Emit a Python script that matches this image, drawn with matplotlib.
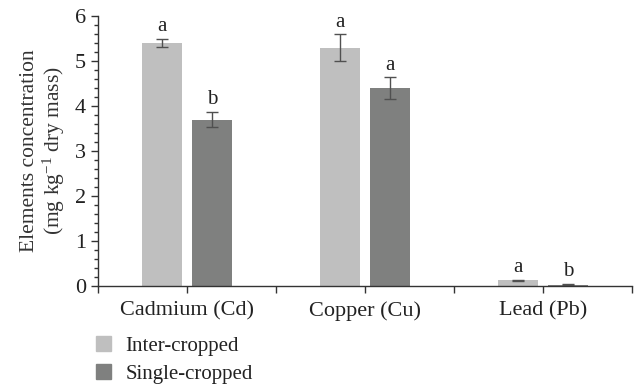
import matplotlib.pyplot as plt
from matplotlib.ticker import MultipleLocator
from matplotlib.patches import Patch
import numpy as np

plt.rcParams['font.family'] = ['Liberation Serif', 'DejaVu Serif']
plt.rcParams['mathtext.default'] = 'regular'

categories = ['Cadmium (Cd)', 'Copper (Cu)', 'Lead (Pb)']
inter = [5.4, 5.3, 0.13]
inter_err = [0.1, 0.29, 0.01]
single = [3.7, 4.4, 0.03]
single_err = [0.17, 0.24, 0.01]
inter_lbl = ['a', 'a', 'a']
single_lbl = ['b', 'a', 'b']

c_inter = '#bfbfbf'
c_single = '#7f807f'

fig = plt.figure(figsize=(6.38, 3.85), dpi=100)
ax = fig.add_axes([98 / 638, 1 - 286 / 385, 534 / 638, 270 / 385])

x = np.arange(len(categories)) + 0.5
w = 0.225
off = 0.14

ax.bar(x - off, inter, w, color=c_inter)
ax.bar(x + off, single, w, color=c_single)
ax.errorbar(x - off, inter, yerr=inter_err, fmt='none', ecolor='#505050',
            elinewidth=1, capsize=4, capthick=1)
ax.errorbar(x + off, single, yerr=single_err, fmt='none', ecolor='#505050',
            elinewidth=1, capsize=4, capthick=1)

for i in range(len(categories)):
    ax.text(x[i] - off, inter[i] + inter_err[i] + 0.06, inter_lbl[i],
            ha='center', va='bottom', fontsize=15, color='#222222')
    ax.text(x[i] + off, single[i] + single_err[i] + 0.06, single_lbl[i],
            ha='center', va='bottom', fontsize=15, color='#222222')

ax.set_xlim(0, 3)
ax.set_ylim(0, 6)
ax.set_xticks(x)
ax.set_xticklabels(categories, fontsize=16, color='#222222')
ax.xaxis.set_minor_locator(MultipleLocator(1))
ax.yaxis.set_major_locator(MultipleLocator(1))
ax.yaxis.set_minor_locator(MultipleLocator(0.2))
ax.tick_params(axis='x', which='both', length=5, width=1, color='#333333', pad=6)
ax.tick_params(axis='y', which='major', length=5, width=1, color='#333333',
               labelsize=16, labelcolor='#222222')
ax.tick_params(axis='y', which='minor', length=3, width=1, color='#333333')

for s in ['top', 'right']:
    ax.spines[s].set_visible(False)
for s in ['left', 'bottom']:
    ax.spines[s].set_color('#333333')
    ax.spines[s].set_linewidth(1)

ax.set_ylabel('Elements concentration\n(mg kg$^{-1}$ dry mass)', fontsize=15.5,
              color='#333333', labelpad=6, linespacing=1.1)

handles = [Patch(color=c_inter, label='Inter-cropped'),
           Patch(color=c_single, label='Single-cropped')]
fig.legend(handles=handles, loc='upper left', bbox_to_anchor=(92 / 638, 1 - 332 / 385),
           frameon=False, fontsize=15, handlelength=0.7, handleheight=0.7,
           handletextpad=0.7, labelspacing=0.4, labelcolor='#222222',
           borderaxespad=0, borderpad=0.2)

fig.savefig('out.png', dpi=100)
